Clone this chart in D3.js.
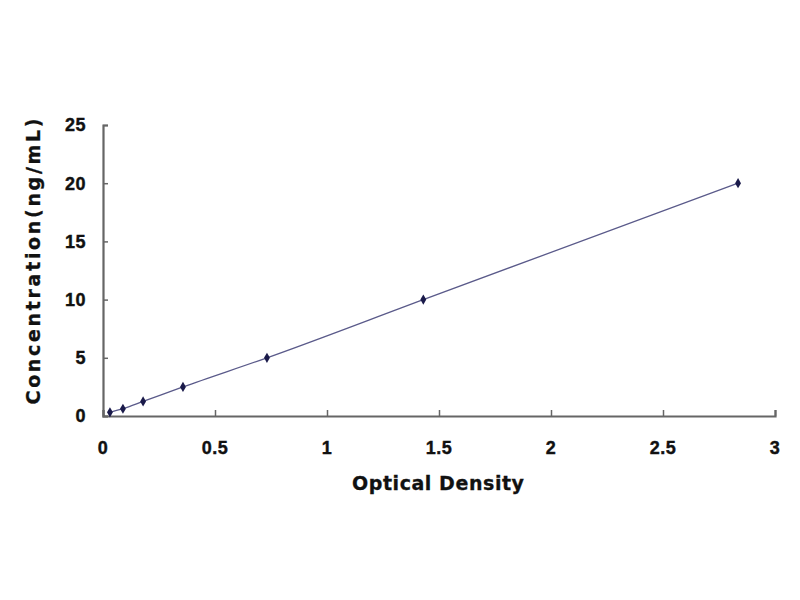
<!DOCTYPE html>
<html>
<head>
<meta charset="utf-8">
<script src="https://cdn.jsdelivr.net/npm/d3@7"></script>
<style>
  html, body { margin: 0; padding: 0; background: #fff; }
  svg text { font-family: "Liberation Sans", Arial, sans-serif; font-weight: bold; fill: #111; stroke: #111; stroke-width: 0.4; }
  svg text.title { font-family: "DejaVu Sans", sans-serif; stroke-width: 0.3; }
</style>
</head>
<body>
<svg id="chart" width="800" height="600"></svg>
<script>
// 标准曲线数据（OD 对 浓度）
const OD = [0.031, 0.089, 0.179, 0.357, 0.732, 1.43, 2.835];
const CONC = [0.3125, 0.625, 1.25, 2.5, 5, 10, 20];
const X_TICKS = [0, 0.5, 1, 1.5, 2, 2.5, 3];
const Y_TICKS = [0, 5, 10, 15, 20, 25];

const svg = d3.select("#chart");
const x = d3.scaleLinear().domain([0, 3]).range([103, 775]);
const y = d3.scaleLinear().domain([0, 25]).range([416, 125]);

const axisColor = "#666";

// 坐标轴：刻度朝内
const gx = svg.append("g").attr("transform", `translate(0,${y(0)})`)
  .call(d3.axisTop(x).tickValues(X_TICKS).tickSize(6).tickFormat(""));
const gy = svg.append("g").attr("transform", `translate(${x(0)},0)`)
  .call(d3.axisRight(y).tickValues(Y_TICKS).tickSize(5).tickFormat(""));
[gx, gy].forEach((g) => {
  g.select(".domain").attr("stroke", axisColor).attr("stroke-width", 2.2);
  g.selectAll(".tick line").attr("stroke", axisColor).attr("stroke-width", 1.5);
});

// 刻度标签
svg.append("g").selectAll("text").data(X_TICKS).join("text")
  .attr("x", (d) => x(d)).attr("y", 454).attr("text-anchor", "middle")
  .attr("font-size", 18).attr("letter-spacing", 0.5).text((d) => d);
svg.append("g").selectAll("text").data(Y_TICKS).join("text")
  .attr("x", 86).attr("y", (d) => y(d)).attr("dy", "0.36em").attr("text-anchor", "end")
  .attr("font-size", 18).attr("letter-spacing", 0.5).text((d) => d);

// 轴标题
svg.append("text").attr("class", "title").attr("x", 438).attr("y", 490).attr("text-anchor", "middle")
  .attr("font-size", 19).attr("textLength", 172).attr("lengthAdjust", "spacing")
  .text("Optical Density");
svg.append("text").attr("class", "title")
  .attr("transform", `translate(40,${(y(0) + y(25)) / 2 - 9}) rotate(-90)`)
  .attr("text-anchor", "middle").attr("font-size", 19)
  .attr("textLength", 286).attr("lengthAdjust", "spacing")
  .text("Concentration(ng/mL)");

// 曲线与数据点
const pts = OD.map((o, i) => ({ o, c: CONC[i] }));
svg.append("path").datum(pts)
  .attr("fill", "none").attr("stroke", "#5a5a8a").attr("stroke-width", 1.3)
  .attr("d", d3.line().x((d) => x(d.o)).y((d) => y(d.c)).curve(d3.curveMonotoneX));
svg.append("g").selectAll("path").data(pts).join("path")
  .attr("transform", (d) => `translate(${x(d.o)},${y(d.c)})`)
  .attr("d", d3.symbol(d3.symbolDiamond, 30))
  .attr("fill", "#1a1a4a");
</script>
</body>
</html>
